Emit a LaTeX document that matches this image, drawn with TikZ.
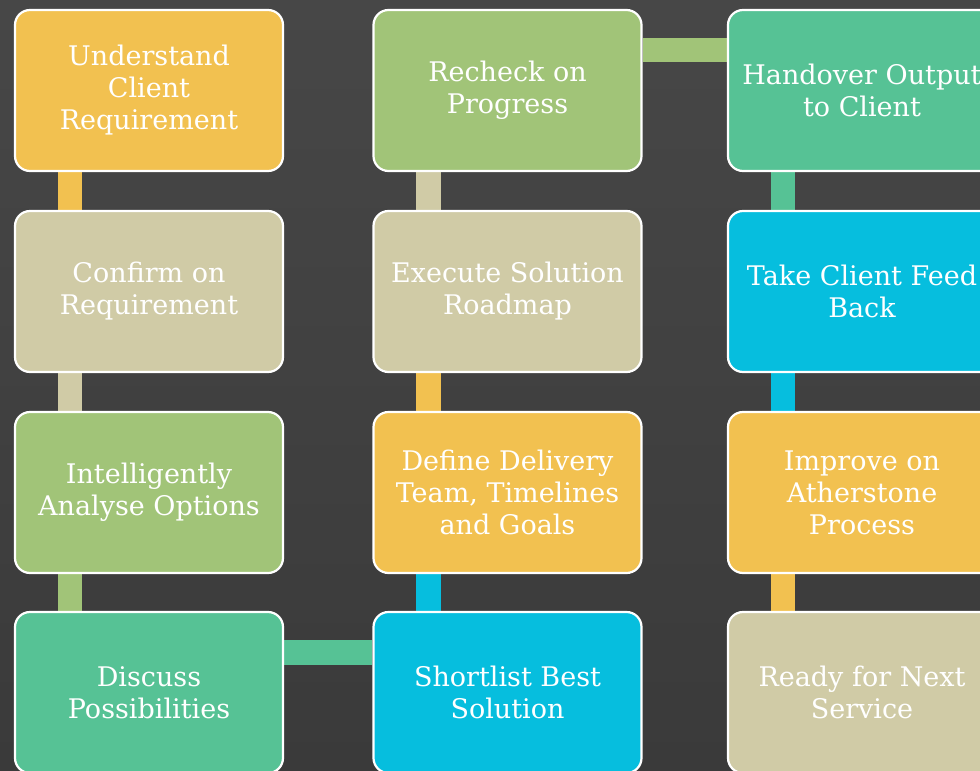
\documentclass[tikz,border=0pt]{standalone}
\usepackage{fontspec}
\setmainfont{DejaVu Serif}
\definecolor{cyel}{HTML}{F2C150}
\definecolor{ctan}{HTML}{D0CBA6}
\definecolor{cgrn}{HTML}{A1C478}
\definecolor{ctea}{HTML}{56C295}
\definecolor{ccya}{HTML}{06BEDE}
\definecolor{bgtop}{HTML}{474747}
\definecolor{bgbot}{HTML}{3A3A3A}
\pgfdeclarelayer{back}
\pgfdeclarelayer{mid}
\pgfsetlayers{back,mid,main}
\begin{document}
\begin{tikzpicture}[x=1pt,y=-1pt,
  box/.style={draw=white, line width=2.2pt, rounded corners=15pt,
    minimum width=268pt, minimum height=161pt, inner sep=0pt,
    text=white, align=center, font=\fontsize{27}{32}\selectfont},
  conn/.style={line width=24.5pt}]
\useasboundingbox (0,0) rectangle (980,771);
\clip (0,0) rectangle (980,771);
\begin{pgfonlayer}{back}
\shade[top color=bgtop, bottom color=bgbot] (0,0) rectangle (980,771);
\end{pgfonlayer}
% column 1
\node[box, fill=cyel] (a1) at (149,90.5) {Understand\\Client\\Requirement};
\node[box, fill=ctan] (a2) at (149,291.5) {Confirm on\\Requirement};
\node[box, fill=cgrn] (a3) at (149,492.5) {Intelligently\\Analyse Options};
\node[box, fill=ctea] (a4) at (149,692.5) {Discuss\\Possibilities};
% column 2
\node[box, fill=cgrn] (b1) at (507.5,90.5) {Recheck on\\Progress};
\node[box, fill=ctan] (b2) at (507.5,291.5) {Execute Solution\\Roadmap};
\node[box, fill=cyel] (b3) at (507.5,492.5) {Define Delivery\\Team, Timelines\\and Goals};
\node[box, fill=ccya] (b4) at (507.5,692.5) {Shortlist Best\\Solution};
% column 3
\node[box, fill=ctea] (c1) at (862,90.5) {Handover Output\\to Client};
\node[box, fill=ccya] (c2) at (862,291.5) {Take Client Feed\\Back};
\node[box, fill=cyel] (c3) at (862,492.5) {Improve on\\Atherstone\\Process};
\node[box, fill=ctan] (c4) at (862,692.5) {Ready for Next\\Service};
% connectors
\begin{pgfonlayer}{mid}
\draw[conn, cyel] ([xshift=-79pt]a1.south) -- ([xshift=-79pt]a2.north);
\draw[conn, ctan] ([xshift=-79pt]a2.south) -- ([xshift=-79pt]a3.north);
\draw[conn, cgrn] ([xshift=-79pt]a3.south) -- ([xshift=-79pt]a4.north);
\draw[conn, ctea] ([yshift=40pt]a4.east) -- ([yshift=40pt]b4.west);
\draw[conn, ccya] ([xshift=-79pt]b4.north) -- ([xshift=-79pt]b3.south);
\draw[conn, cyel] ([xshift=-79pt]b3.north) -- ([xshift=-79pt]b2.south);
\draw[conn, ctan] ([xshift=-79pt]b2.north) -- ([xshift=-79pt]b1.south);
\draw[conn, cgrn] ([yshift=40.5pt]b1.east) -- ([yshift=40.5pt]c1.west);
\draw[conn, ctea] ([xshift=-79pt]c1.south) -- ([xshift=-79pt]c2.north);
\draw[conn, ccya] ([xshift=-79pt]c2.south) -- ([xshift=-79pt]c3.north);
\draw[conn, cyel] ([xshift=-79pt]c3.south) -- ([xshift=-79pt]c4.north);
\end{pgfonlayer}
\end{tikzpicture}
\end{document}
